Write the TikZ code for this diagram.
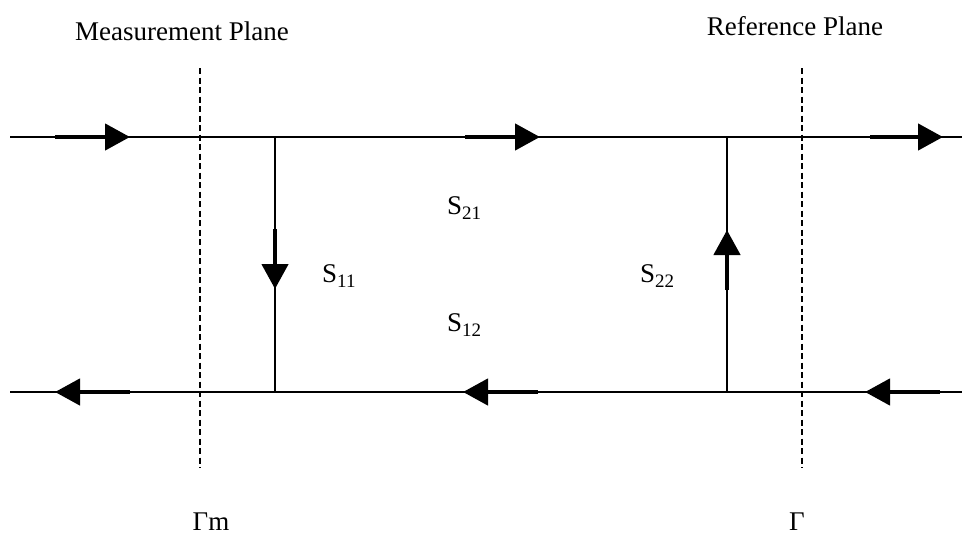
\documentclass[tikz,border=0pt]{standalone}
\usepackage{fontspec}
\setmainfont{Liberation Serif}
\usetikzlibrary{arrows.meta}
\newcommand{\lowsub}[1]{\raisebox{-5pt}{\fontsize{19}{22}\selectfont #1}}
\begin{document}
\begin{tikzpicture}[x=1pt,y=-1pt,
  wire/.style={line width=1.2pt},
  plane/.style={line width=1.2pt,dash pattern=on 6pt off 3.5pt},
  flow/.style={line width=4.5pt,-{Triangle[length=25pt,width=26pt]}},
  lbl/.style={font=\fontsize{27}{31}\selectfont,inner sep=0pt}]
\useasboundingbox (0,0) rectangle (972,538);
% coordinates
\coordinate (tl) at (10,137);
\coordinate (tr) at (962,137);
\coordinate (bl) at (10,392);
\coordinate (br) at (962,392);
\coordinate (lj1) at (275,137);
\coordinate (lj2) at (275,392);
\coordinate (rj1) at (727,137);
\coordinate (rj2) at (727,392);
\coordinate (mp1) at (200,68);
\coordinate (mp2) at (200,468);
\coordinate (rp1) at (802,68);
\coordinate (rp2) at (802,468);
% lines
\draw[wire] (tl) -- (tr);
\draw[wire] (bl) -- (br);
\draw[wire] (lj1) -- (lj2);
\draw[wire] (rj1) -- (rj2);
\draw[plane] (mp1) -- (mp2);
\draw[plane] (rp1) -- (rp2);
% arrows
\coordinate (a1s) at (55,137);  \coordinate (a1e) at (130,137);
\coordinate (a2s) at (465,137); \coordinate (a2e) at (540,137);
\coordinate (a3s) at (870,137); \coordinate (a3e) at (943,137);
\coordinate (b1s) at (130,392); \coordinate (b1e) at (55,392);
\coordinate (b2s) at (538,392); \coordinate (b2e) at (463,392);
\coordinate (b3s) at (940,392); \coordinate (b3e) at (865,392);
\coordinate (v1s) at (275,229); \coordinate (v1e) at (275,289);
\coordinate (v2s) at (727,290); \coordinate (v2e) at (727,230);
\draw[flow] (a1s) -- (a1e);
\draw[flow] (a2s) -- (a2e);
\draw[flow] (a3s) -- (a3e);
\draw[flow] (b1s) -- (b1e);
\draw[flow] (b2s) -- (b2e);
\draw[flow] (b3s) -- (b3e);
\draw[flow] (v1s) -- (v1e);
\draw[flow] (v2s) -- (v2e);
% labels
\node[lbl] (mpl) at (182,31) {Measurement Plane};
\node[lbl] (rpl) at (795,26) {Reference Plane};
\node[lbl,anchor=base west] (s11) at (322,282) {S\lowsub{11}};
\node[lbl,anchor=base west] (s21) at (447,214) {S\lowsub{21}};
\node[lbl,anchor=base west] (s12) at (447,331) {S\lowsub{12}};
\node[lbl,anchor=base west] (s22) at (640,282) {S\lowsub{22}};
\node[lbl] (gm) at (211,522) {Γm};
\node[lbl] (g) at (797,522) {Γ};
\end{tikzpicture}
\end{document}
